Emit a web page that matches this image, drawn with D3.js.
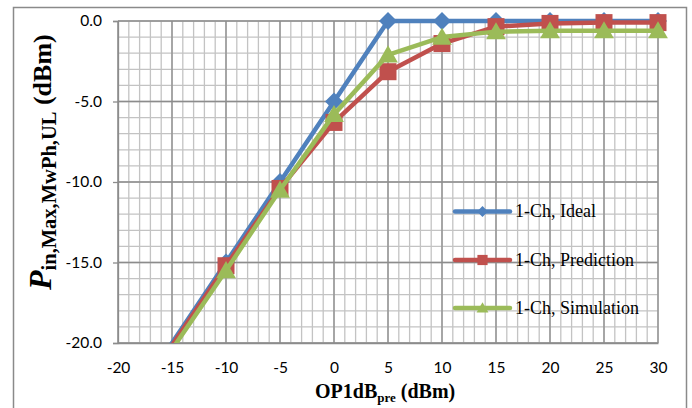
<!DOCTYPE html>
<html>
<head>
<meta charset="utf-8">
<script src="https://cdn.jsdelivr.net/npm/d3@7"></script>
<style>
  body { margin: 0; background: #fff; }
  svg { display: block; }
</style>
</head>
<body>
<div id="root"></div>
<script>
// chart data
var xValues = [-20, -10, -5, 0, 5, 10, 15, 20, 25, 30];
var idealValues = [-25.0, -15.0, -10.0, -5.0, 0.0, 0.0, 0.0, 0.0, 0.0, 0.0];
var predictionValues = [-25.1, -15.2, -10.4, -6.3, -3.15, -1.4, -0.35, -0.15, -0.1, -0.1];
var simulationValues = [-25.3, -15.5, -10.5, -5.8, -2.1, -1.0, -0.66, -0.6, -0.6, -0.6];
var seriesNames = ["1-Ch, Ideal", "1-Ch, Prediction", "1-Ch, Simulation"];
var xTicks = [-20, -15, -10, -5, 0, 5, 10, 15, 20, 25, 30];
var yTicks = [-20, -15, -10, -5, 0];

var W = 692, H = 408;
var plot = { left: 118, right: 658, top: 21, bottom: 343 };

var svg = d3.select("#root")
    .append("svg")
    .attr("width", W)
    .attr("height", H);

// outer chart border
svg.append("rect")
    .attr("x", 13.5)
    .attr("y", 7.5)
    .attr("width", 673)
    .attr("height", 420)
    .attr("fill", "none")
    .attr("stroke", "#8a8a8a")
    .attr("stroke-width", 1.5);

var x = d3.scaleLinear().domain([-20, 30]).range([plot.left, plot.right]);
var y = d3.scaleLinear().domain([-20, 0]).range([plot.bottom, plot.top]);

// minor grid (every 1 unit)
var grid = svg.append("g");
grid.selectAll(".vminor")
    .data(d3.range(-20, 31, 1))
    .enter().append("line")
    .attr("x1", d => x(d)).attr("x2", d => x(d))
    .attr("y1", plot.top).attr("y2", plot.bottom)
    .attr("stroke", "#c3c3c3")
    .attr("stroke-width", 1.3);
grid.selectAll(".hminor")
    .data(d3.range(-20, 1, 1))
    .enter().append("line")
    .attr("x1", plot.left).attr("x2", plot.right)
    .attr("y1", d => y(d)).attr("y2", d => y(d))
    .attr("stroke", "#c3c3c3")
    .attr("stroke-width", 1.3);

// major grid (every 5 units)
grid.selectAll(".vmajor")
    .data(xTicks)
    .enter().append("line")
    .attr("x1", d => x(d)).attr("x2", d => x(d))
    .attr("y1", plot.top).attr("y2", plot.bottom)
    .attr("stroke", "#8c8c8c")
    .attr("stroke-width", 1.3);
grid.selectAll(".hmajor")
    .data(yTicks)
    .enter().append("line")
    .attr("x1", plot.left).attr("x2", plot.right)
    .attr("y1", d => y(d)).attr("y2", d => y(d))
    .attr("stroke", "#8c8c8c")
    .attr("stroke-width", 1.3);

// y axis
var yAxis = svg.append("g")
    .attr("transform", "translate(" + plot.left + ",0)")
    .call(d3.axisLeft(y).tickValues(yTicks).tickSize(5).tickPadding(11)
        .tickFormat(d => d.toFixed(1)));
yAxis.select(".domain").attr("stroke", "#8c8c8c").attr("stroke-width", 1.3);
yAxis.selectAll(".tick line").attr("stroke", "#8c8c8c").attr("stroke-width", 1.3);
yAxis.selectAll("text")
    .attr("font-family", "Lato, 'Open Sans', sans-serif")
    .attr("font-size", 15.5)
    .attr("fill", "#000");

// x axis
var xAxis = svg.append("g")
    .attr("transform", "translate(0," + plot.bottom + ")")
    .call(d3.axisBottom(x).tickValues(xTicks).tickSize(0).tickPadding(19)
        .tickFormat(d => String(d)));
xAxis.select(".domain").attr("stroke", "#8c8c8c").attr("stroke-width", 1.3);
xAxis.selectAll("text")
    .attr("font-family", "Lato, 'Open Sans', sans-serif")
    .attr("font-size", 15.5)
    .attr("fill", "#000");

function marker(kind, s) {
    if (kind === "diamond") return "M0," + (-s) + "L" + s + ",0L0," + s + "L" + (-s) + ",0Z";
    if (kind === "square") return "M" + (-s) + "," + (-s) + "H" + s + "V" + s + "H" + (-s) + "Z";
    return "M0," + (-s * 1.05) + "L" + (s * 1.1) + "," + (s * 0.85) + "L" + (-s * 1.1) + "," + (s * 0.85) + "Z";
}

var series = [
    { name: seriesNames[0], values: idealValues, color: "#4f81bd", kind: "diamond", size: 9 },
    { name: seriesNames[1], values: predictionValues, color: "#c0504d", kind: "square", size: 8.5 },
    { name: seriesNames[2], values: simulationValues, color: "#9bbb59", kind: "triangle", size: 9 }
];

var line = d3.line()
    .x(d => x(d[0]))
    .y(d => y(d[1]));

// keep lines above the x axis
svg.append("clipPath").attr("id", "clipLow")
    .append("rect")
    .attr("x", 0).attr("y", 0)
    .attr("width", W).attr("height", plot.bottom);

series.forEach(function (s) {
    var pts = xValues.map((xv, i) => [xv, s.values[i]]);
    var g = svg.append("g").attr("clip-path", "url(#clipLow)");
    g.append("path")
        .datum(pts)
        .attr("fill", "none")
        .attr("stroke", s.color)
        .attr("stroke-width", 4.5)
        .attr("stroke-linejoin", "round")
        .attr("d", line);
    g.selectAll(".m")
        .data(pts.filter(p => p[1] >= -20))
        .enter().append("path")
        .attr("transform", d => "translate(" + x(d[0]) + "," + y(d[1]) + ")")
        .attr("d", marker(s.kind, s.size))
        .attr("fill", s.color);
});

// legend
var legendY = [211.5, 260, 308];
series.forEach(function (s, i) {
    var g = svg.append("g").attr("transform", "translate(455," + legendY[i] + ")");
    g.append("line")
        .attr("x1", 0).attr("x2", 55)
        .attr("y1", 0).attr("y2", 0)
        .attr("stroke", s.color)
        .attr("stroke-width", 4.5)
        .attr("stroke-linecap", "round");
    g.append("path")
        .attr("transform", "translate(27.5,0)")
        .attr("d", marker(s.kind, s.size * 0.6))
        .attr("fill", s.color);
    g.append("text")
        .attr("x", 60)
        .attr("y", 5.5)
        .attr("font-family", "'Liberation Serif', 'Times New Roman', serif")
        .attr("font-size", 18)
        .attr("fill", "#000")
        .text(s.name);
});

// y axis title
var yt = svg.append("text")
    .attr("transform", "translate(51,290) rotate(-90)")
    .attr("font-family", "'Liberation Serif', 'Times New Roman', serif")
    .attr("font-weight", "bold")
    .attr("fill", "#000");
yt.append("tspan").attr("font-size", 32).attr("font-style", "italic").text("P");
yt.append("tspan").attr("font-size", 20.5).attr("dy", 5).text("in,Max,MwPh,UL");
yt.append("tspan").attr("font-size", 26).attr("dy", -5).text(" (dBm)");

// x axis title
var xt = svg.append("text")
    .attr("x", 315)
    .attr("y", 398)
    .attr("font-family", "'Liberation Serif', 'Times New Roman', serif")
    .attr("font-weight", "bold")
    .attr("font-size", 20)
    .attr("fill", "#000");
xt.append("tspan").text("OP1dB");
xt.append("tspan").attr("font-size", 13).attr("dy", 4).text("pre");
xt.append("tspan").attr("dy", -4).text(" (dBm)");
</script>
</body>
</html>
